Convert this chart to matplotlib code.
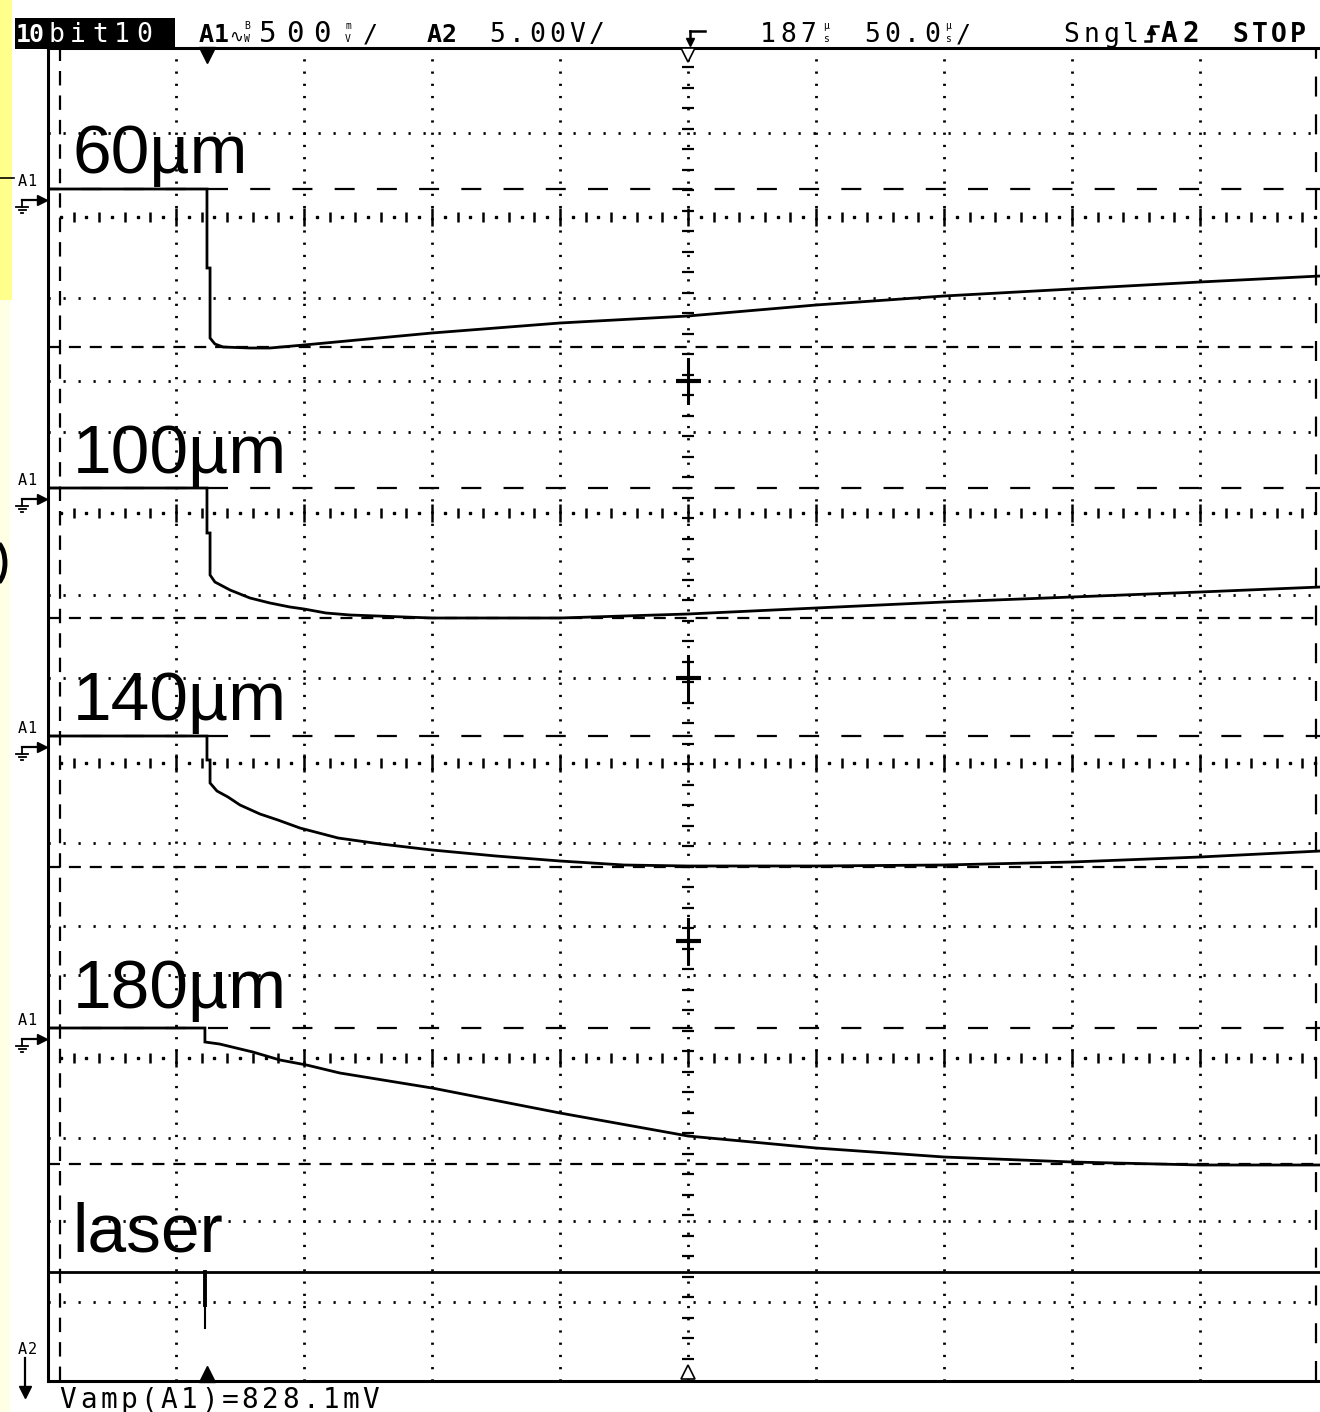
import numpy as np
import matplotlib.pyplot as plt
from matplotlib.patches import Rectangle, Arc

W, H = 1320, 1412

# time in us (50 us/div), level = screen rows above the bottom edge of the graticule
t_60 = [0, 62.1, 62.1, 63.3, 63.3, 65.2, 68.4, 78.9, 86.7, 100, 150, 200, 250, 300, 350, 400, 450, 497]
v_60 = [1192, 1192, 1113, 1113, 1043, 1037, 1034, 1033, 1033, 1036, 1048, 1058, 1065, 1076, 1085, 1092, 1099, 1105]

t_100 = [0, 62.1, 62.1, 63.3, 63.3, 65.2, 71.1, 78.9, 86.7, 94.5, 100, 108.6, 118, 150, 200, 250, 300, 350, 400, 450, 497]
v_100 = [893, 893, 848, 848, 806, 799, 791, 783, 778, 774, 772, 768, 766, 763, 763, 767, 773, 779, 784, 789, 794]

t_140 = [0, 62.1, 62.1, 63.3, 63.3, 66, 70.3, 75, 82.8, 89.8, 98.4, 113.3, 130, 150, 175, 200, 225, 250, 300, 350, 400, 450, 497]
v_140 = [645, 645, 621, 621, 598, 590, 584, 576, 567, 561, 553, 543, 537, 531, 525, 520, 516, 515, 515, 516, 519, 524, 530]

t_180 = [0, 61.3, 61.3, 67, 80, 90.6, 101, 114, 150, 200, 250, 300, 350, 400, 450, 497]
v_180 = [353, 353, 339, 337, 329, 321, 316, 308, 293, 268, 245, 233, 224, 219, 216, 216]

laser_t = [0, 497]
laser_v = [109, 109]
spike_t = 61.3
spike_thick = [109, 76]
spike_thin = [76, 53]

labels = ['60µm', '100µm', '140µm', '180µm', 'laser']
label_levels = [1208, 908, 661, 373, 129]

# graticule
vdot = [50, 100, 150, 200, 250, 300, 350, 400, 450]
vdash = [4.7, 495.3]
hdot = [1248, 1083, 1000, 949, 786, 703, 538, 455, 406, 243, 160, 79]
hdash_ground = [1192, 893, 645, 353]
hdash = [1034, 763, 514, 217]
tick_rows = [1164, 868, 618, 323]
grounds_px = [189, 488, 736, 1028]


def mono(ax, x0, y, s, pitch, size=18, weight='normal', color='black'):
    # fixed pitch scope font
    for i, ch in enumerate(s):
        ax.text(x0 + (i + 0.5) * pitch, y, ch, ha='center', va='baseline',
                family='DejaVu Sans Mono', fontsize=size, fontweight=weight, color=color)


def stacked(ax, x, top, bottom, size=7):
    ax.text(x, 29, top, ha='center', va='baseline', fontsize=size, family='DejaVu Sans Mono')
    ax.text(x, 42, bottom, ha='center', va='baseline', fontsize=size, family='DejaVu Sans Mono')


fig = plt.figure(figsize=(W / 100, H / 100), dpi=100)
fig.patch.set_facecolor('white')

# overlay in pixel coordinates for the scope furniture
ax0 = fig.add_axes([0, 0, 1, 1])
ax0.set_xlim(0, W)
ax0.set_ylim(H, 0)
ax0.axis('off')

ax0.add_patch(Rectangle((0, 0), 10, H, color='#FFFFE6', lw=0))
ax0.add_patch(Rectangle((0, 0), 12, 300, color='#FFFF8C', lw=0))
ax0.plot([0, 14], [178, 178], color='black', lw=1.2)
ax0.add_patch(Arc((-8, 563), 26, 46, theta1=-70, theta2=70, color='black', lw=3.5))

ax0.add_patch(Rectangle((15, 18), 160, 31, color='black', lw=0))
mono(ax0, 17, 42, '10', 13, size=18, weight='bold', color='white')
mono(ax0, 45, 42, 'bit10', 22, size=19, color='white')
mono(ax0, 199, 42, 'A1', 15, size=18, weight='bold')
ax0.text(236, 42, '∿', ha='center', va='baseline', fontsize=12)
stacked(ax0, 247, 'B', 'W')
mono(ax0, 254, 42, '500', 27, size=21)
stacked(ax0, 348, 'm', 'V')
mono(ax0, 360, 42, '/', 20, size=18)
mono(ax0, 427, 42, 'A2', 15, size=18, weight='bold')
mono(ax0, 487, 42, '5.00V/', 20, size=19)
ax0.plot([690, 705], [31, 31], color='black', lw=1.8)
ax0.plot([690, 690], [31, 40], color='black', lw=1.8)
ax0.plot([690], [42], marker='v', color='black', ms=6)
mono(ax0, 758, 42, '187', 20, size=19)
stacked(ax0, 826, 'µ', 's')
mono(ax0, 862, 42, '50.0', 20, size=19)
stacked(ax0, 948, 'µ', 's')
mono(ax0, 954, 42, '/', 18, size=18)
mono(ax0, 1061, 42, 'Sngl', 20, size=19)
ax0.plot([1145, 1151, 1151, 1158], [41, 41, 26, 26], color='black', lw=1.8)
ax0.plot([1151], [30], marker='^', color='black', ms=6)
mono(ax0, 1158, 42, 'A2', 22, size=20, weight='bold')
mono(ax0, 1231, 42, 'STOP', 19, size=19, weight='bold')

mono(ax0, 58, 1408, 'Vamp(A1)=828.1mV', 20.2, size=20)

# channel markers on the left edge
for g in grounds_px:
    mono(ax0, 17, g - 3, 'A1', 10, size=11)
    ax0.plot([22, 40], [g + 11, g + 11], color='black', lw=1.6)
    ax0.plot([42], [g + 11], marker='>', color='black', ms=7)
    ax0.plot([22, 22], [g + 11, g + 18], color='black', lw=1.3)
    ax0.plot([16, 28], [g + 18, g + 18], color='black', lw=1.3)
    ax0.plot([18.5, 25.5], [g + 21, g + 21], color='black', lw=1.3)
    ax0.plot([21, 23], [g + 24, g + 24], color='black', lw=1.3)
mono(ax0, 17, 1354, 'A2', 10, size=11)
ax0.plot([25, 25], [1358, 1392], color='black', lw=1.6)
ax0.plot([25], [1392], marker='v', color='black', ms=9)

# graticule axes
ax = fig.add_axes([48 / W, 31 / H, (W - 48) / W, 1333 / H])
ax.set_facecolor('none')
ax.set_xlim(0, (W - 48) * 50 / 128)
ax.set_ylim(0, 1333)
ax.set_xticks([])
ax.set_yticks([])
for side in ['left', 'top', 'bottom']:
    ax.spines[side].set_linewidth(2.2)
ax.spines['right'].set_visible(False)

for t in vdot:
    ax.axvline(t, color='black', lw=2, ls=(0, (0.8, 3.6)), zorder=1)
ax.axvline(vdash[0], color='black', lw=1.6, ls=(0, (6.5, 4.5)), zorder=1)
ax.axvline(vdash[1], color='black', lw=1.6, ls=(0, (9, 8)), zorder=1)
for y in hdot:
    ax.axhline(y, color='black', lw=2, ls=(0, (0.8, 4.6)), zorder=1)
for y in hdash_ground:
    ax.axhline(y, color='black', lw=1.6, ls=(4, (9, 10)), zorder=1)
for y in hdash:
    ax.axhline(y, color='black', lw=1.6, ls=(0, (5.4, 4)), zorder=1)

minor = np.arange(10, 497, 10)
minor = minor[minor % 50 != 0]
dots = np.arange(5, 497, 10)
major = np.arange(50, 497, 50)
for y in tick_rows:
    ax.plot(minor, [y] * len(minor), ls='none', marker='|', ms=7, mew=1.8, color='black', zorder=2)
    ax.plot(dots, [y] * len(dots), ls='none', marker='s', ms=1.8, color='black', zorder=2)
    ax.plot(major, [y] * len(major), ls='none', marker='|', ms=13, mew=1.8, color='black', zorder=2)

# centre axis ticks
centre_ticks = np.arange(1314, 10, -20.5)
ax.plot([250] * len(centre_ticks), centre_ticks, ls='none', marker='_', ms=9, mew=1.6, color='black', zorder=2)
for y in [1000, 703, 440]:
    ax.plot([250], [y], ls='none', marker='_', ms=18, mew=3, color='black', zorder=2)
    ax.plot([250, 250], [y - 22, y + 22], color='black', lw=2.2, zorder=2)

# trigger position markers
ax.plot([62.1], [1326], marker='v', color='black', ms=11, clip_on=False, zorder=5)
ax.plot([62.1], [7], marker='^', color='black', ms=11, clip_on=False, zorder=5)
ax.plot([250], [1326], marker='v', mfc='white', mec='black', ms=10, mew=1.2, clip_on=False, zorder=5)
ax.plot([250], [9], marker='^', mfc='white', mec='black', ms=10, mew=1.2, clip_on=False, zorder=5)

# traces
for t, v in [(t_60, v_60), (t_100, v_100), (t_140, v_140), (t_180, v_180)]:
    ax.plot(t, v, color='black', lw=2, zorder=4, solid_joinstyle='miter')
ax.plot(laser_t, laser_v, color='black', lw=2, zorder=4)
ax.plot([spike_t, spike_t], spike_thick, color='black', lw=2.8, zorder=4)
ax.plot([spike_t, spike_t], spike_thin, color='black', lw=1.5, zorder=4)

for lab, y in zip(labels, label_levels):
    ax.text(9.5, y, lab, ha='left', va='baseline', fontsize=50,
            family='Liberation Sans', color='black', zorder=6)

fig.savefig('out.png', dpi=100, facecolor='white')
